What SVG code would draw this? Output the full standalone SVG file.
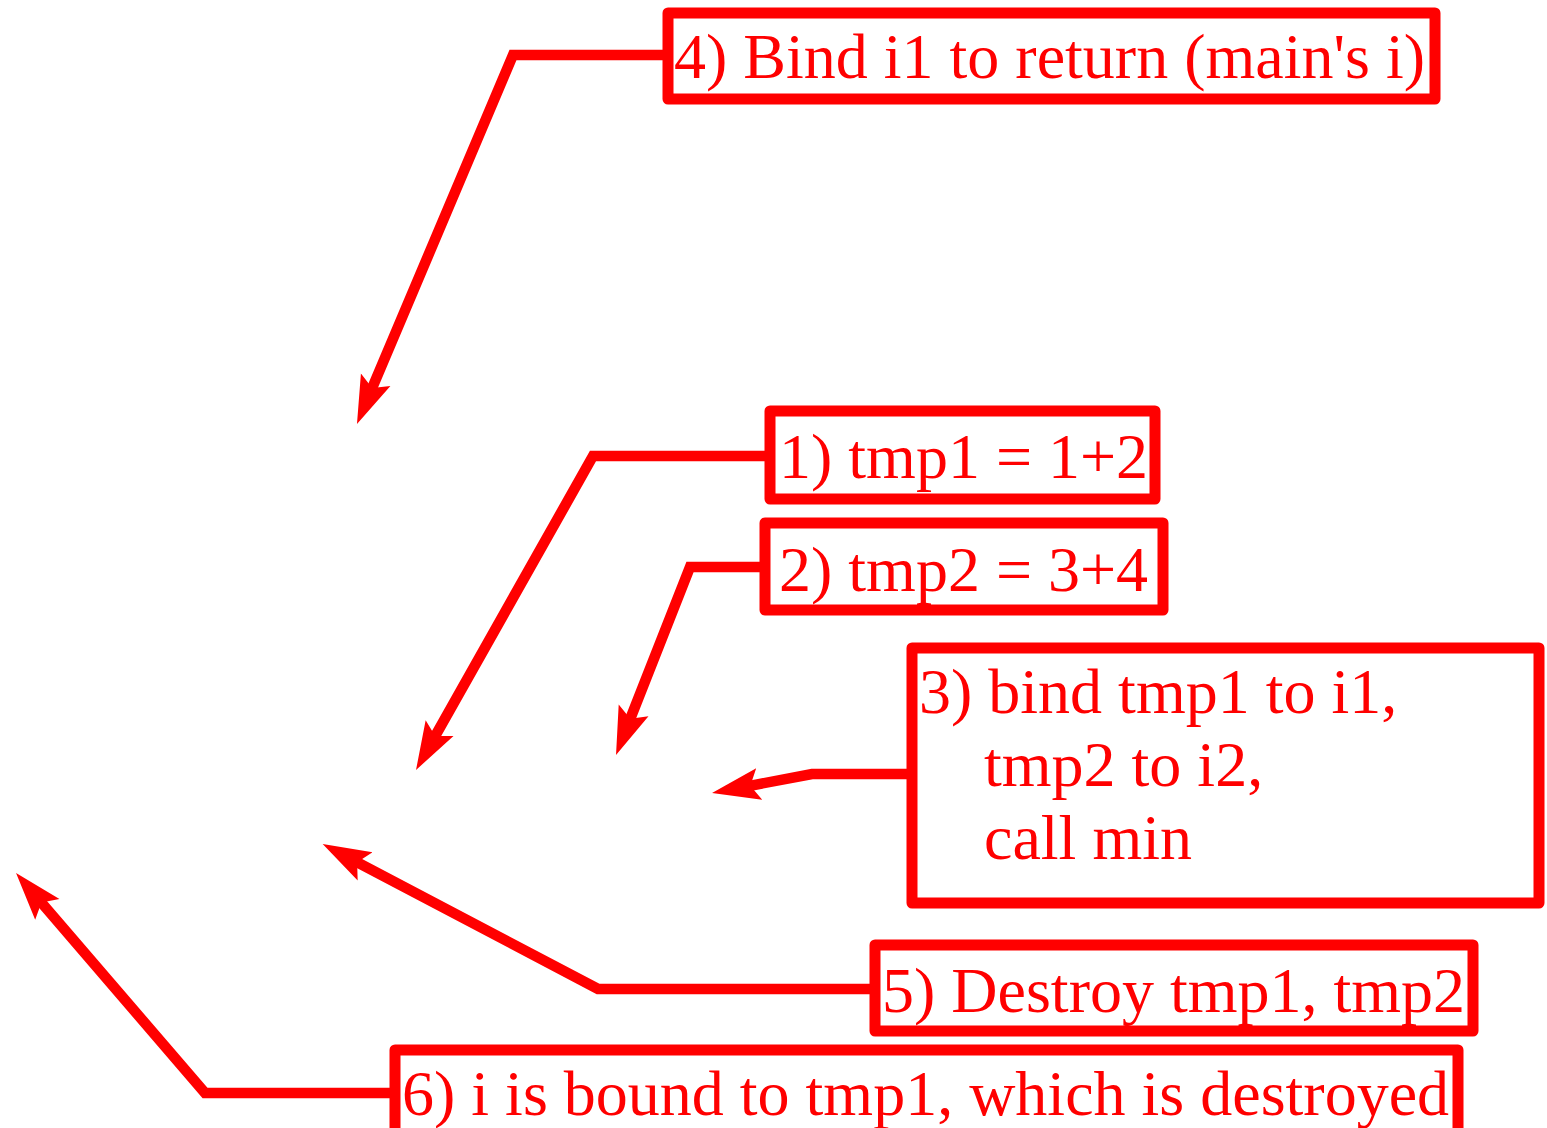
<svg xmlns="http://www.w3.org/2000/svg" width="1547" height="1128" viewBox="0 0 1547 1128">
  <style>
    .box { fill: #ffffff; stroke: #ff0000; stroke-width: 11; stroke-linejoin: round; }
    .lbl { fill: #ff0000; font-family: "Liberation Serif", "Times New Roman", serif; font-size: 64px; }
    .wire { fill: none; stroke: #ff0000; stroke-width: 10.5; stroke-linejoin: miter; marker-end: url(#head); }
  </style>
  <defs>
    <marker id="head" markerUnits="userSpaceOnUse" viewBox="0 -18 50 36" markerWidth="50" markerHeight="36" refX="12" refY="0" orient="auto">
      <path d="M48,0 L0,-16 L9,0 L0,16 Z" fill="#ff0000"/>
    </marker>
  </defs>
  <rect width="1547" height="1128" fill="#ffffff"/>

  <!-- elbow connectors: horizontal stub out of each box, then a slanted run to the arrowhead -->
  <g id="connectors">
    <path class="wire" d="M668,55 L513,55 L371.0,390.8"/>
    <path class="wire" d="M770,456 L593,456 L433.7,738.6"/>
    <path class="wire" d="M765,567 L690,567 L629.2,721.5"/>
    <path class="wire" d="M912,774 L812,774 L747.4,786.3"/>
    <path class="wire" d="M875,989 L598,989 L354.5,860.8"/>
    <path class="wire" d="M395,1093 L205,1093 L39.5,900.3"/>
  </g>

  <g id="step4">
    <rect class="box" x="668" y="13" width="767" height="86"/>
    <text class="lbl" x="674" y="78">4) Bind i1 to return (main's i)</text>
  </g>
  <g id="step1">
    <rect class="box" x="770" y="411" width="385" height="88"/>
    <text class="lbl" x="779" y="478">1) tmp1 = 1+2</text>
  </g>
  <g id="step2">
    <rect class="box" x="765" y="523" width="398" height="87"/>
    <text class="lbl" x="779" y="591">2) tmp2 = 3+4</text>
  </g>
  <g id="step3">
    <rect class="box" x="912" y="648" width="627" height="255"/>
    <text class="lbl" x="919" y="713">3) bind tmp1 to i1,</text>
    <text class="lbl" x="984" y="786">tmp2 to i2,</text>
    <text class="lbl" x="984" y="859">call min</text>
  </g>
  <g id="step5">
    <rect class="box" x="875" y="945" width="598" height="86"/>
    <text class="lbl" x="882" y="1012">5) Destroy tmp1, tmp2</text>
  </g>
  <g id="step6">
    <rect class="box" x="395" y="1050" width="1063" height="100"/>
    <text class="lbl" x="402" y="1115">6) i is bound to tmp1, which is destroyed</text>
  </g>
</svg>
